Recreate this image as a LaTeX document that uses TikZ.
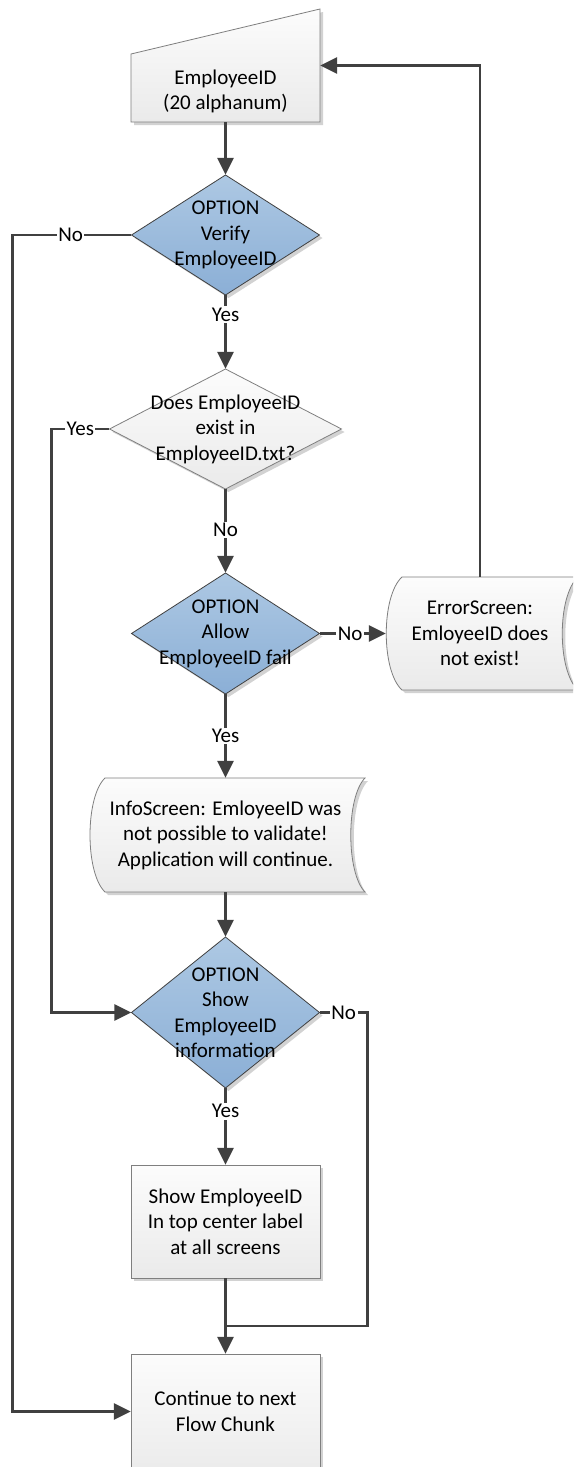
\documentclass[tikz,border=0pt]{standalone}
\usepackage{fontspec}
\setmainfont{Carlito}
\usetikzlibrary{arrows.meta,calc}
\definecolor{lc}{HTML}{404040}
\definecolor{bt}{HTML}{ADC8E3}
\definecolor{bb}{HTML}{8BAFD6}
\definecolor{gt}{HTML}{FCFCFC}
\definecolor{gb}{HTML}{EAEAEA}
\definecolor{sh}{HTML}{D2D2D2}
\definecolor{bd}{HTML}{7F7F7F}
\begin{document}
\begin{tikzpicture}[x=1pt,y=-1pt,
  txt/.style={draw=none, inner sep=0pt, align=center, font=\fontsize{21}{25.5}\selectfont},
  conn/.style={draw=lc, line width=2.8pt, -{Triangle[length=17pt,width=16pt]}},
  plainline/.style={draw=lc, line width=2.8pt},
  lbl/.style={fill=white, inner sep=1.5pt, font=\fontsize{21}{24}\selectfont},
  gshape/.style={top color=gt, bottom color=gb, draw=bd, line width=0.8pt},
  bshape/.style={top color=bt, bottom color=bb, draw=lc, line width=0.8pt},
  shadowfill/.style={fill=sh, draw=none, shift={(3,3)}}]
\useasboundingbox (0,0) rectangle (573,1467);
\clip (0,0) rectangle (573,1467);
\fill[white] (0,0) rectangle (573,1467);

% ---- shadows ----
\fill[shadowfill] (131,122) -- (320,122) -- (320,9) -- (131,54) -- cycle;
\fill[shadowfill] (225.5,175) -- (319.5,235) -- (225.5,295) -- (131.5,235) -- cycle;
\fill[shadowfill] (225.5,369) -- (341.5,429) -- (225.5,489) -- (109.5,429) -- cycle;
\fill[shadowfill] (225.5,573) -- (319.5,633.5) -- (225.5,694) -- (131.5,633.5) -- cycle;
\fill[shadowfill] (402,577) -- (578,577) .. controls (557,596) and (557,671) .. (578,690) -- (402,690) .. controls (381,671) and (381,596) .. (402,577) -- cycle;
\fill[shadowfill] (105,778) -- (365,778) .. controls (346,797) and (346,873) .. (365,892) -- (105,892) .. controls (85,873) and (85,797) .. (105,778) -- cycle;
\fill[shadowfill] (225.5,937) -- (319.5,1012.5) -- (225.5,1088) -- (131.5,1012.5) -- cycle;
\fill[shadowfill] (131,1165) rectangle (320,1278);
\fill[shadowfill] (131,1354) rectangle (320,1480);

% ---- shapes ----
\path[gshape] (131,122) -- (320,122) -- (320,9) -- (131,54) -- cycle;
\path[bshape] (225.5,175) -- (319.5,235) -- (225.5,295) -- (131.5,235) -- cycle;
\path[gshape] (225.5,369) -- (341.5,429) -- (225.5,489) -- (109.5,429) -- cycle;
\path[bshape] (225.5,573) -- (319.5,633.5) -- (225.5,694) -- (131.5,633.5) -- cycle;
\path[gshape] (402,577) -- (578,577) .. controls (557,596) and (557,671) .. (578,690) -- (402,690) .. controls (381,671) and (381,596) .. (402,577) -- cycle;
\path[gshape] (105,778) -- (365,778) .. controls (346,797) and (346,873) .. (365,892) -- (105,892) .. controls (85,873) and (85,797) .. (105,778) -- cycle;
\path[bshape] (225.5,937) -- (319.5,1012.5) -- (225.5,1088) -- (131.5,1012.5) -- cycle;
\path[gshape] (131,1165) rectangle (320,1278);
\path[gshape] (131,1354) rectangle (320,1480);

% ---- nodes ----
\node[txt, minimum width=189pt, minimum height=113pt] (emp) at (225.5,65.5) {};
\node[txt] (empT) at (225.5,91.5) {EmployeeID\\(20 alphanum)};
\node[txt, minimum width=188pt, minimum height=120pt] (verify) at (225.5,235) {OPTION\\Verify\\EmployeeID};
\node[txt, minimum width=232pt, minimum height=120pt] (does) at (225.5,429) {Does EmployeeID\\exist in\\EmployeeID.txt?};
\node[txt, minimum width=188pt, minimum height=121pt] (allow) at (225.5,633.5) {OPTION\\Allow\\EmployeeID fail};
\node[txt, minimum width=188pt, minimum height=113pt] (err) at (480,633.5) {ErrorScreen:\\EmloyeeID does\\not exist!};
\node[txt, minimum width=270pt, minimum height=114pt] (info) at (225.5,835) {InfoScreen: EmloyeeID was\\not possible to validate!\\Application will continue.};
\node[txt, minimum width=188pt, minimum height=151pt] (show) at (225.5,1012.5) {OPTION\\Show\\EmployeeID\\information};
\node[txt, minimum width=189pt, minimum height=113pt] (box) at (225.5,1221.5) {Show EmployeeID\\In top center label\\at all screens};
\node[txt, minimum width=189pt, minimum height=115pt] (cont) at (225.5,1411.5) {Continue to next\\Flow Chunk};
\coordinate (j) at (225.5,1326);

% ---- connectors ----
\draw[conn] (emp.south) -- (verify.north);
\draw[conn] (verify.west) -- node[lbl,pos=0.51]{No} ++(-119,0) |- (cont.west);
\draw[conn] (verify.south) -- node[lbl,pos=0.26]{Yes} (does.north);
\draw[conn] (does.west) -- node[lbl,pos=0.5]{Yes} ++(-58,0) |- (show.west);
\draw[conn] (does.south) -- node[lbl,pos=0.49]{No} (allow.north);
\draw[conn] (allow.east) -- node[lbl,pos=0.46]{No} (err.west);
\draw[conn] (err.north) |- (emp.east);
\draw[conn] (allow.south) -- node[lbl,pos=0.5]{Yes} (info.north);
\draw[conn] (info.south) -- (show.north);
\draw[plainline] (show.east) -- node[lbl,pos=0.5]{No} ++(48,0) |- (j);
\draw[conn] (show.south) -- node[lbl,pos=0.3]{Yes} (box.north);
\draw[conn] (box.south) -- (cont.north);
\end{tikzpicture}
\end{document}
